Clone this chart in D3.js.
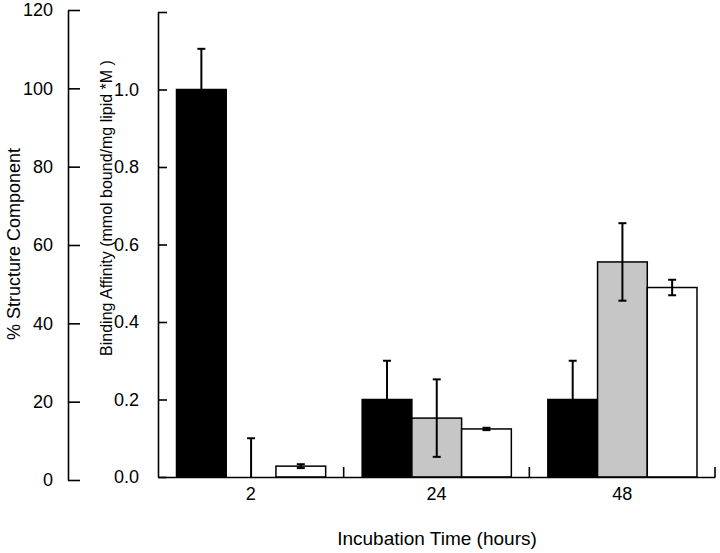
<!DOCTYPE html>
<html><head><meta charset="utf-8">
<script src="https://cdn.jsdelivr.net/npm/d3@7"></script>
<style>
html,body{margin:0;padding:0;background:#fff;}
svg{display:block;font-family:"Liberation Sans",Arial,sans-serif;}
</style></head>
<body>
<svg id="c" width="720" height="553"></svg>
<script>
const categories = ["2", "24", "48"];
const seriesNames = ["black", "gray", "white"];
const blackValues = [1.0, 0.2, 0.2];
const blackErrors = [0.105, 0.10, 0.10];
const grayValues = [0.0, 0.152, 0.555];
const grayErrors = [0.10, 0.10, 0.10];
const whiteValues = [0.028, 0.124, 0.489];
const whiteErrors = [0.005, 0.003, 0.02];
const outerTicks = [0, 20, 40, 60, 80, 100, 120];
const innerTicks = [0.0, 0.2, 0.4, 0.6, 0.8, 1.0, 1.2];
const innerTickLabels = ["0.0", "0.2", "0.4", "0.6", "0.8", "1.0", ""];

const seriesFill = {black: "#000", gray: "#c6c6c6", white: "#fff"};
const seriesData = {
  black: {v: blackValues, e: blackErrors},
  gray: {v: grayValues, e: grayErrors},
  white: {v: whiteValues, e: whiteErrors}
};

const svg = d3.select("#c");
const baseY = 477;
const outerX = 68, innerX = 158, rightX = 715;

const yOuter = d3.scaleLinear().domain([0, 120]).range([480, 10]);
const yInner = d3.scaleLinear().domain([0, 1.2]).range([baseY, 12]);
const x0 = d3.scaleBand().domain(categories).range([innerX, rightX]);
const x1 = d3.scaleBand().domain(seriesNames).range([18.5, x0.bandwidth() - 18]);

// outer axis
const gOuter = svg.append("g").attr("transform", `translate(${outerX},0)`)
  .call(d3.axisRight(yOuter).tickValues(outerTicks).tickSize(12).tickSizeOuter(0).tickFormat(""));
gOuter.select(".domain").attr("stroke-width", 1.6);
gOuter.selectAll(".tick line").attr("stroke-width", 1.6);
svg.append("g").selectAll("text").data(outerTicks).join("text")
  .attr("x", 53).attr("y", d => yOuter(d)).attr("dy", "0.36em")
  .attr("text-anchor", "end").attr("font-size", 18).text(d => d);

// inner axis
const gInner = svg.append("g").attr("transform", `translate(${innerX},0)`)
  .call(d3.axisRight(yInner).tickValues(innerTicks).tickSize(9).tickSizeOuter(0).tickFormat(""));
gInner.select(".domain").attr("stroke-width", 1.6);
gInner.selectAll(".tick line").attr("stroke-width", 1.6);
svg.append("g").selectAll("text").data(innerTicks).join("text")
  .attr("x", 139).attr("y", d => yInner(d)).attr("dy", "0.36em")
  .attr("text-anchor", "end").attr("font-size", 18)
  .text((d, i) => innerTickLabels[i]);

// bars
categories.forEach((c, ci) => {
  seriesNames.forEach(s => {
    const v = seriesData[s].v[ci];
    if (v <= 0) return;
    svg.append("rect")
      .attr("x", x0(c) + x1(s)).attr("width", x1.bandwidth())
      .attr("y", yInner(v)).attr("height", baseY - yInner(v))
      .attr("fill", seriesFill[s]).attr("stroke", "#000").attr("stroke-width", 1.5);
  });
});

// error bars
categories.forEach((c, ci) => {
  seriesNames.forEach(s => {
    const v = seriesData[s].v[ci], e = seriesData[s].e[ci];
    const cx = x0(c) + x1(s) + x1.bandwidth() / 2;
    const top = yInner(v + e);
    const bot = Math.min(baseY, yInner(Math.max(0, v - e)));
    svg.append("line").attr("x1", cx).attr("x2", cx).attr("y1", top).attr("y2", bot)
      .attr("stroke", "#000").attr("stroke-width", 2);
    svg.append("line").attr("x1", cx - 4).attr("x2", cx + 4).attr("y1", top).attr("y2", top)
      .attr("stroke", "#000").attr("stroke-width", 2);
    if (v - e > 0) {
      svg.append("line").attr("x1", cx - 4).attr("x2", cx + 4).attr("y1", bot).attr("y2", bot)
        .attr("stroke", "#000").attr("stroke-width", 2);
    }
  });
});

// x axis
const gx = svg.append("g").attr("transform", `translate(0,${baseY})`)
  .call(d3.axisBottom(x0).tickSize(0).tickSizeOuter(0).tickPadding(10));
gx.select(".domain").attr("stroke-width", 1.6);
gx.selectAll("text").attr("font-size", 18).attr("font-family", "Liberation Sans, Arial, sans-serif").attr("fill", "#000");
svg.append("g").selectAll("line").data(categories).join("line")
  .attr("x1", d => x0(d) + x0.bandwidth()).attr("x2", d => x0(d) + x0.bandwidth())
  .attr("y1", baseY).attr("y2", baseY - 10)
  .attr("stroke", "#000").attr("stroke-width", 1.6);

// titles
svg.append("text").attr("x", 437).attr("y", 545).attr("text-anchor", "middle")
  .attr("font-size", 19).text("Incubation Time (hours)");
svg.append("text").attr("transform", "translate(20,244) rotate(-90)").attr("text-anchor", "middle")
  .attr("font-size", 18).text("% Structure Component");
svg.append("text").attr("transform", "translate(112,208) rotate(-90)").attr("text-anchor", "middle")
  .attr("font-size", 16).text("Binding Affinity (mmol bound/mg lipid *M )");
</script>
</body></html>
